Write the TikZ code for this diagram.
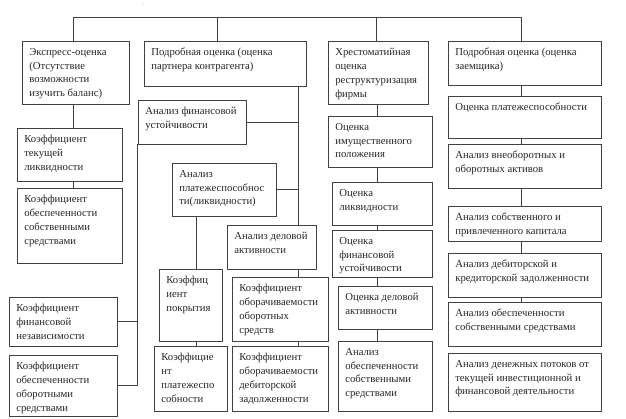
\documentclass[tikz,border=0pt]{standalone}
\usepackage{fontspec}
\setmainfont{Liberation Serif}
\begin{document}
\begin{tikzpicture}[x=1pt,y=-1pt,line width=0.6pt,draw=black!75,
  boxs/.style={draw=black!75,inner sep=0pt},
  txts/.style={anchor=north west,inner sep=0pt,align=left,font=\fontsize{10.7}{13.8}\selectfont,text=black!85}]
\useasboundingbox (0,0) rectangle (626,418);
\newcommand\bx[6]{%
  \node[boxs,minimum width={#4-#2},minimum height={#5-#3}] (#1) at ({(#2+#4)/2},{(#3+#5)/2}) {};
  \node[txts] (#1-t) at ({#2+7},{#3+7}) {#6};}
\node[inner sep=0pt,font=\tiny] (dot) at (143,4) {.};
% column 1
\bx{eo}{22}{41}{129}{104}{Экспресс-оценка\\(Отсутствие\\возможности\\изучить баланс)}
\bx{kt}{17}{128}{122}{181}{Коэффициент\\текущей\\ликвидности}
\bx{ks}{17}{188}{122}{263}{Коэффициент\\обеспеченности\\собственными\\средствами}
\bx{kf}{9}{297}{117}{346}{Коэффициент\\финансовой\\независимости}
\bx{ko}{9}{355}{117}{416}{Коэффициент\\обеспеченности\\оборотными\\средствами}
% column 2
\bx{pk}{144}{41}{306}{86}{Подробная оценка (оценка\\партнера контрагента)}
\bx{af}{138}{100}{246}{144}{Анализ финансовой\\устойчивости}
\bx{ap}{172}{163}{276}{216}{Анализ\\платежеспособнос\\ти(ликвидности)}
\bx{kp}{159}{269}{222}{341}{Коэффиц\\иент\\покрытия}
\bx{kpl}{154}{346}{227}{411}{Коэффицие\\нт\\платежеспо\\собности}
\bx{ad}{227}{225}{316}{269}{Анализ деловой\\активности}
\bx{kob}{232}{277}{328}{341}{Коэффициент\\оборачиваемости\\оборотных\\средств}
\bx{kdb}{232}{346}{328}{411}{Коэффициент\\оборачиваемости\\дебиторской\\задолженности}
% column 3
\bx{hr}{328}{41}{428}{104}{Хрестоматийная\\оценка\\реструктуризация\\фирмы}
\bx{oi}{328}{116}{432}{167}{Оценка\\имущественного\\положения}
\bx{ol}{332}{182}{432}{225}{Оценка\\ликвидности}
\bx{ofu}{332}{230}{432}{277}{Оценка\\финансовой\\устойчивости}
\bx{oda}{338}{286}{432}{329}{Оценка деловой\\активности}
\bx{aos}{338}{341}{432}{411}{Анализ\\обеспеченности\\собственными\\средствами}
% column 4
\bx{pz}{448}{41}{601}{85}{Подробная оценка (оценка\\заемщика)}
\bx{op}{448}{96}{601}{138}{Оценка платежеспособности}
\bx{av}{448}{144}{601}{188}{Анализ внеоборотных и\\оборотных активов}
\bx{ask}{448}{206}{601}{241}{Анализ собственного и\\привлеченного капитала}
\bx{adk}{448}{253}{601}{297}{Анализ дебиторской и\\кредиторской задолженности}
\bx{aoss}{448}{302}{601}{346}{Анализ обеспеченности\\собственными средствами}
\bx{adp}{448}{353}{601}{411}{Анализ денежных потоков от\\текущей инвестиционной и\\финансовой деятельности}
% bus
\coordinate (b1) at (73,17); \coordinate (b4) at (521,17);
\draw (eo.north -| b1) -- (b1) -- (b4) -- (pz.north -| b4);
\draw (pk.north -| 217,0) -- (217,17);
\draw (hr.north -| 376,0) -- (376,17);
% col1
\draw (eo.south -| b1) -- (kt.north -| b1);
\draw (kt.south -| b1) -- (ks.north -| b1);
% col2 right spine
\coordinate (sp) at (298,86);
\draw (sp) -- (ad.north -| sp);
\draw (af.east) -- (af.east -| sp);
\draw (ap.east) -- (ap.east -| sp);
\draw (ad.south -| sp) -- (kob.north -| sp);
\draw (kob.south -| sp) -- (kdb.north -| sp);
\draw (ap.south -| 196,0) -- (kp.north -| 196,0);
\draw (kp.south -| 196,0) -- (kpl.north -| 196,0);
% col2 left spine
\draw (af.south west) |- (ko.east);
\draw (kf.east) -- (kf.east -| af.south west);
% col3
\foreach \a/\b in {hr/oi,oi/ol,ol/ofu,ofu/oda,oda/aos}
  \draw (\a.south -| 377,0) -- (\b.north -| 377,0);
% col4
\foreach \a/\b in {pz/op,op/av,av/ask,ask/adk,adk/aoss}
  \draw (\a.south -| b4) -- (\b.north -| b4);
\end{tikzpicture}
\end{document}
